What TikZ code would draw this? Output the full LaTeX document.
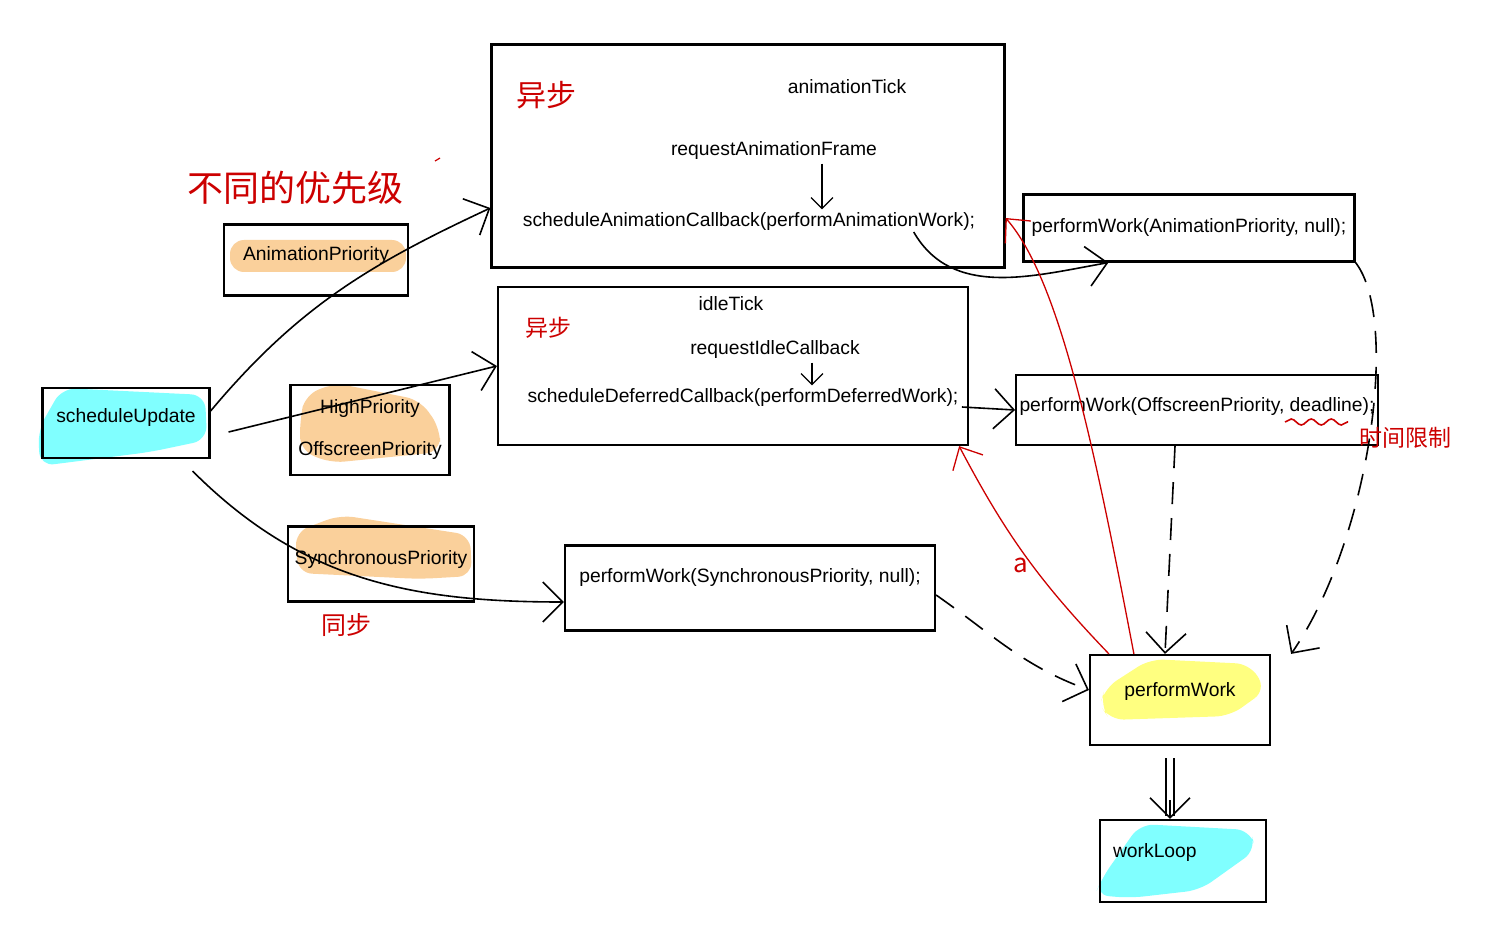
\documentclass[tikz,border=0pt]{standalone}
\usepackage{fontspec}
\setmainfont{Liberation Sans}
\newfontfamily\cjk{Noto Sans CJK SC}
\usetikzlibrary{arrows.meta,decorations.pathmorphing}
\definecolor{hlcyan}{RGB}{128,255,255}
\definecolor{hlorange}{RGB}{250,208,155}
\definecolor{hlyellow}{RGB}{255,255,128}
\definecolor{penred}{RGB}{204,0,0}
\tikzset{
  pbox/.style={draw, line width=2.2pt},
  link/.style={line width=1.6pt, -{Straight Barb[length=20pt,width=40pt]}},
  dashlink/.style={link, dash pattern=on 22pt off 14pt},
  smalllink/.style={line width=1.3pt, -{Straight Barb[length=11pt,width=22pt]}},
  redlink/.style={penred, line width=1.3pt, -{Straight Barb[length=18pt,width=34pt]}},
  redtext/.style={text=penred, font=\cjk\fontsize{#1}{#1}\selectfont}
}
\begin{document}
\begin{tikzpicture}[x=1pt, y=-1pt, font=\fontsize{19.3}{23}\selectfont]
			\useasboundingbox (0,0) rectangle (1488,941);

			\fill[hlcyan, rounded corners=14pt] (62,388) -- (205,395) -- (207,440) -- (150,452) -- (40,466) -- (38,430) -- cycle;
			\fill[hlorange, rounded corners=14pt] (230,240) rectangle (406,272);
			\fill[hlorange, rounded corners=14pt] (305,395) -- (335,383) -- (420,400) -- (440,428) -- (440,452) -- (330,463) -- (300,450) -- (300,420) -- cycle;
			\fill[hlorange, rounded corners=14pt] (295,532) -- (340,515) -- (470,535) -- (472,576) -- (420,579) -- (298,573) -- cycle;
			\fill[hlyellow, rounded corners=14pt] (1105,688) -- (1150,659) -- (1250,664) -- (1266,690) -- (1230,716) -- (1110,720) -- (1100,705) -- cycle;
			\fill[hlcyan, rounded corners=14pt] (1102,878) -- (1140,824) -- (1250,830) -- (1256,850) -- (1200,890) -- (1130,898) -- (1095,895) -- cycle;

			\node (sched) at (126,423)[pbox, minimum width=167pt, minimum height=70pt, text depth=14pt]{scheduleUpdate};
			\node (animPri) at (316,260)[pbox, minimum width=184pt, minimum height=71pt, text depth=13pt]{AnimationPriority};
			\node (highPri) at (370,430)[pbox, minimum width=159pt, minimum height=90pt, align=center]{HighPriority\\[19pt]OffscreenPriority};
			\node (syncPri) at (381,564)[pbox, minimum width=186pt, minimum height=75pt, text depth=12pt]{SynchronousPriority};

			\node (animBox) at (748,156)[pbox, minimum width=513pt, minimum height=223pt]{};
			\node (animTick) at (847,87){animationTick};
			\node (reqAF) at (774,151){requestAnimationFrame};
			\node (animCb) at (749,222){scheduleAnimationCallback(performAnimationWork);};

			\node (idleBox) at (733,366)[pbox, minimum width=470pt, minimum height=158pt]{};
			\node (idleTick) at (731,304){idleTick};
			\node (reqIdle) at (775,350){requestIdleCallback};
			\node (idleCb) at (743,398){scheduleDeferredCallback(performDeferredWork);};

			\node (pwAnim) at (1189,228)[pbox, minimum width=331pt, minimum height=67pt]{performWork(AnimationPriority, null);};
			\node (pwOff) at (1197,410)[pbox, minimum width=361pt, minimum height=70pt, text depth=10pt]{performWork(OffscreenPriority, deadline);};
			\node (pwSync) at (750,588)[pbox, minimum width=370pt, minimum height=85pt, text depth=24pt]{performWork(SynchronousPriority, null);};
			\node (pw) at (1180,700)[pbox, minimum width=180pt, minimum height=90pt, text depth=20pt]{performWork};
			\node (loop) at (1183,861)[pbox, minimum width=166pt, minimum height=82pt, text depth=22pt, text width=140pt, align=left]{workLoop};

			\node (diffPri) at (295,188)[redtext=36]{不同的优先级};
			\node (async1) at (546,95)[redtext=30]{异步};
			\node (async2) at (548,328)[redtext=23]{异步};
			\node (sync) at (346,625)[redtext=25]{同步};
			\node (timeLim) at (1405,438)[redtext=23]{时间限制};

			\draw[link] ([yshift=12pt]sched.east) to[out=50, in=205] ([yshift=-52pt]animBox.west);
			\draw[link] ([xshift=18pt, yshift=-9pt]sched.east) -- (idleBox.west);
			\draw[link] ([xshift=-18pt, yshift=-12pt]sched.south east) to[out=-45, in=180] ([yshift=-14pt]pwSync.west);

			\draw[smalllink] ([xshift=48pt]reqAF.south) -- ([xshift=73pt]animCb.north);
			\draw[smalllink] ([xshift=37pt]reqIdle.south) -- ([xshift=69pt]idleCb.north);

			\draw[link] ([xshift=-65pt, yshift=-10pt]animCb.east) to[out=-60, in=190] ([xshift=86pt]pwAnim.south west);
			\draw[link] ([yshift=-9pt]idleCb.east) -- (pwOff.west);

			\draw[dashlink] (pwAnim.south east) .. controls (1400,320) and (1370,540) .. ([xshift=20pt]pw.north east);
			\draw[dashlink] ([xshift=-22pt]pwOff.south) -- ([xshift=-15pt]pw.north);
			\draw[dashlink] ([yshift=-7pt]pwSync.east) to[out=-35, in=160] ([yshift=10pt]pw.west);
			\draw[line width=1.6pt, double distance=6pt, shorten >=3pt] ([xshift=-10pt, yshift=-12pt]pw.south) -- ([xshift=-13pt]loop.north);
			\draw[link, shorten <=42pt] ([xshift=-10pt, yshift=-12pt]pw.south) -- ([xshift=-13pt]loop.north);

			\draw[redlink] ([xshift=20pt]pw.north west) to[bend left=8] node[pos=0.45, left, redtext=26]{a} ([xshift=-10pt]idleBox.south east);
			\draw[redlink] ([xshift=45pt]pw.north west) .. controls (1095,450) and (1060,280) .. ([yshift=-62pt]animBox.east);

			\draw[penred, line width=1.6pt, decorate, decoration={snake, amplitude=3pt, segment length=20pt}] (1285,422) -- (1348,422);
			\draw[penred, line width=1.2pt] (435,161) -- (440,158);
		\end{tikzpicture}
\end{document}
